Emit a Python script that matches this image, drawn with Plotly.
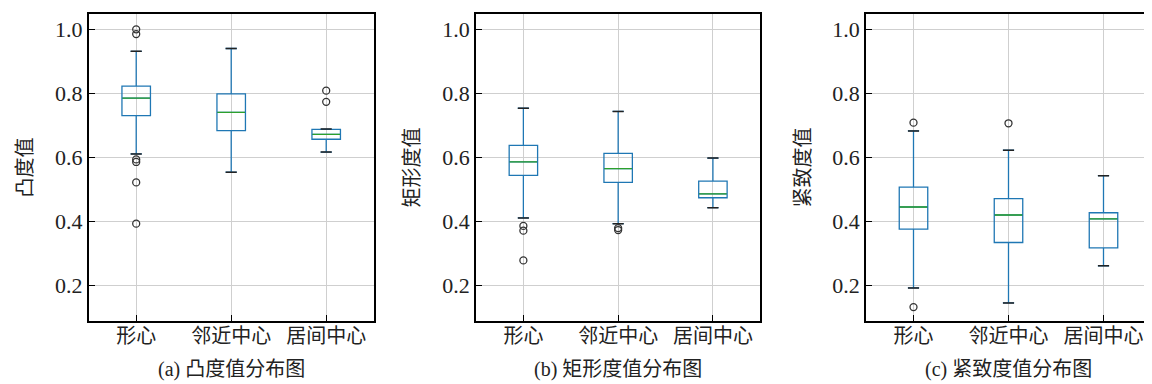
import plotly.graph_objects as go

categories = ["形心", "邻近中心", "居间中心"]
positions = [1, 2, 3]

# Panel (a) 凸度值
a_q1 = [0.730, 0.683, 0.656]
a_med = [0.785, 0.740, 0.671]
a_q3 = [0.822, 0.798, 0.687]
a_lo = [0.610, 0.553, 0.616]
a_hi = [0.931, 0.940, 0.688]
a_out = [[1.0, 0.985, 0.593, 0.585, 0.521, 0.392], [], [0.808, 0.773]]

# Panel (b) 矩形度值
b_q1 = [0.543, 0.521, 0.473]
b_med = [0.585, 0.564, 0.485]
b_q3 = [0.637, 0.612, 0.525]
b_lo = [0.410, 0.392, 0.442]
b_hi = [0.753, 0.743, 0.597]
b_out = [[0.385, 0.370, 0.277], [0.378, 0.372], []]

# Panel (c) 紧致度值
c_q1 = [0.375, 0.333, 0.316]
c_med = [0.444, 0.419, 0.407]
c_q3 = [0.506, 0.470, 0.426]
c_lo = [0.191, 0.144, 0.260]
c_hi = [0.682, 0.622, 0.542]
c_out = [[0.708, 0.131], [0.706], []]

panels = [
    ("凸度值", "(a) 凸度值分布图", a_q1, a_med, a_q3, a_lo, a_hi, a_out),
    ("矩形度值", "(b) 矩形度值分布图", b_q1, b_med, b_q3, b_lo, b_hi, b_out),
    ("紧致度值", "(c) 紧致度值分布图", c_q1, c_med, c_q3, c_lo, c_hi, c_out),
]

W, H = 1152, 384
x_px = [(80.7, 365.7), (468.0, 752.3), (858.0, 1143.0)]
y_px = (6.3, 312.8)
ytitle_px = [17, 404, 795]

FONT = "Liberation Serif, 'Noto Sans CJK SC', serif"
TXT = "#222222"
BLUE = "#1f77b4"
GREEN = "#2ca02c"
BOX_W = 0.3
CAP_HALF = 0.058

fig = go.Figure()
annotations = []
for i, (ytitle, caption, q1, med, q3, lo, hi, outs) in enumerate(panels):
    xa = "x" if i == 0 else f"x{i+1}"
    ya = "y" if i == 0 else f"y{i+1}"
    for j, p in enumerate(positions):
        fig.add_trace(go.Box(
            x=[p], q1=[q1[j]], median=[med[j]], q3=[q3[j]],
            lowerfence=[lo[j]], upperfence=[hi[j]],
            width=BOX_W, whiskerwidth=0.4, boxpoints=False,
            line=dict(color=BLUE, width=1.3), fillcolor="rgba(0,0,0,0)",
            xaxis=xa, yaxis=ya, showlegend=False, hoverinfo="skip"))
        # caps (black)
        fig.add_trace(go.Scatter(
            x=[p - CAP_HALF, p + CAP_HALF, None, p - CAP_HALF, p + CAP_HALF],
            y=[hi[j], hi[j], None, lo[j], lo[j]],
            mode="lines", line=dict(color="#222222", width=1.5),
            xaxis=xa, yaxis=ya, showlegend=False, hoverinfo="skip"))
        # median (green)
        fig.add_trace(go.Scatter(
            x=[p - BOX_W / 2 + 0.005, p + BOX_W / 2 - 0.005], y=[med[j], med[j]],
            mode="lines", line=dict(color=GREEN, width=1.3),
            xaxis=xa, yaxis=ya, showlegend=False, hoverinfo="skip"))
        if outs[j]:
            fig.add_trace(go.Scatter(
                x=[p] * len(outs[j]), y=outs[j], mode="markers",
                marker=dict(symbol="circle-open", size=7, color="#333333",
                            line=dict(width=1.3)),
                xaxis=xa, yaxis=ya, showlegend=False, hoverinfo="skip"))

    x0, x1 = x_px[i]
    dom_x = [x0 / W, x1 / W]
    dom_y = [(H - y_px[1]) / H, (H - y_px[0]) / H]
    axis_common = dict(showline=True, linecolor="black", linewidth=1.6, mirror=True,
                       ticks="inside", ticklen=6, tickwidth=1.3, tickcolor="black",
                       showgrid=True, gridcolor="#cfcfcf", gridwidth=1, zeroline=False)
    fig.layout[("xaxis" if i == 0 else f"xaxis{i+1}")] = dict(
        domain=dom_x, anchor=ya, range=[0.5, 3.5],
        tickmode="array", tickvals=positions, ticktext=categories,
        ticklabelstandoff=-4,
        tickfont=dict(family=FONT, size=20, color=TXT), **axis_common)
    fig.layout[("yaxis" if i == 0 else f"yaxis{i+1}")] = dict(
        domain=dom_y, anchor=xa, range=[0.088, 1.047],
        tickmode="array", tickvals=[0.2, 0.4, 0.6, 0.8, 1.0], tickformat=".1f",
        tickfont=dict(family=FONT, size=22, color=TXT),
        **axis_common)
    annotations.append(dict(
        text=ytitle, xref="paper", yref="paper", textangle=-90,
        x=ytitle_px[i] / W, y=(H - (y_px[0] + y_px[1]) / 2) / H,
        xanchor="center", yanchor="middle", showarrow=False,
        font=dict(family=FONT, size=20, color=TXT)))
    annotations.append(dict(
        text=caption, xref="paper", yref="paper",
        x=(x0 + x1) / 2 / W, y=(H - 361) / H, xanchor="center", yanchor="middle",
        showarrow=False, font=dict(family=FONT, size=20, color=TXT)))

fig.update_layout(
    width=W, height=H, margin=dict(l=0, r=0, t=0, b=0),
    paper_bgcolor="white", plot_bgcolor="white",
    annotations=annotations, showlegend=False)

fig.write_html("out.html")
